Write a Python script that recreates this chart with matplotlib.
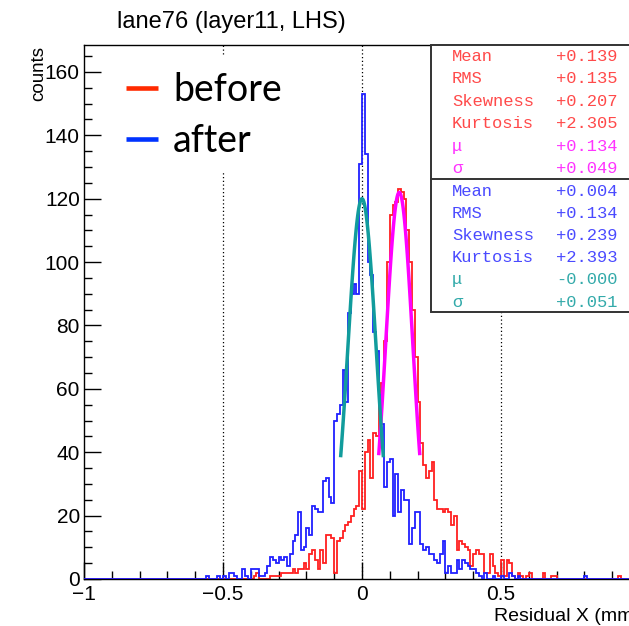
import numpy as np
import matplotlib
matplotlib.use("Agg")
import matplotlib.pyplot as plt
from matplotlib.patches import Rectangle

plt.rcParams["font.family"] = ["Liberation Sans", "DejaVu Sans"]

# histogram: 200 bins of 0.01 from -1 to 1
N_BINS = 200
X_MIN, X_MAX = -1.0, 1.0

# "before" (red) counts, first bin starts at -0.39
red_start = -0.39
red_counts = [
    1, 2, 0, 0, 0, 0, 1, 1, 1, 1,            # -0.39 .. -0.30
    2, 2, 2, 2, 3, 2, 3, 3, 5, 3,            # -0.29 .. -0.20
    8, 9, 6, 3, 9, 5, 14, 14, 13, 2,         # -0.19 .. -0.10
    12, 13, 15, 17, 18, 20, 22, 23, 34, 22,  # -0.09 .. 0.00
    40, 44, 32, 46, 45, 56, 62, 75, 100, 115,  # 0.01 .. 0.10
    118, 119, 123, 122, 120, 110, 100, 85, 70, 56,  # 0.11 .. 0.20
    43, 36, 32, 34, 37, 25, 22, 22, 21, 22,  # 0.21 .. 0.30
    21, 17, 20, 9, 12, 11, 10, 9, 4, 8,      # 0.31 .. 0.40
    9, 8, 8, 2, 2, 8, 4, 2, 1, 6,            # 0.41 .. 0.50
    1, 6, 5, 1, 0, 2, 1, 0, 1, 2,            # 0.51 .. 0.60
    0, 0, 0, 0, 2, 0, 0, 1, 1, 0,            # 0.61 .. 0.70
    0, 0, 0, 0, 0, 0, 0, 0, 0, 0,            # 0.71 .. 0.80
    0, 0, 0, 0, 0, 0, 0, 0, 0, 0,            # 0.81 .. 0.90
    0, 1,                                    # 0.91 .. 0.92
]

# "after" (blue) counts, first bin starts at -0.56
blue_start = -0.56
blue_counts = [
    1, 0, 0, 0, 1, 0, 1, 0, 2, 2,            # -0.56 .. -0.47
    1, 0, 0, 3, 1, 0, 3, 3, 3, 1,            # -0.46 .. -0.37
    1, 2, 4, 7, 6, 5, 7, 6, 7, 4,            # -0.36 .. -0.27
    8, 12, 14, 21, 9, 10, 16, 14, 23, 22,    # -0.26 .. -0.17
    21, 21, 31, 32, 26, 24, 50, 52, 55, 66,  # -0.16 .. -0.07
    56, 84, 90, 93, 90, 131, 153, 134, 100, 96,  # -0.06 .. 0.03
    78, 72, 58, 49, 29, 37, 38, 20, 33, 21,  # 0.04 .. 0.13
    28, 25, 25, 11, 16, 21, 21, 11, 9, 10,   # 0.14 .. 0.23
    8, 8, 6, 5, 8, 12, 2, 4, 2, 2,           # 0.24 .. 0.33
    6, 3, 6, 5, 4, 3, 3, 2, 1, 0,            # 0.34 .. 0.43
    2, 0, 0, 1, 0, 0, 1, 0, 0, 2,            # 0.44 .. 0.53
    1, 0, 1, 0, 0, 0, 0, 0, 0, 0,            # 0.54 .. 0.63
    0, 0, 0, 0, 0, 0, 0, 0, 0, 0,            # 0.64 .. 0.73
    0, 0, 0, 0, 0, 0, 1,                     # 0.74 .. 0.80
]

# gaussian fits (mu, sigma, amplitude)
red_fit = (0.134, 0.049, 122.0)
blue_fit = (0.0, 0.051, 120.0)

stat_labels = ["Mean", "RMS", "Skewness", "Kurtosis", "\u03bc", "\u03c3"]
red_stats = ["+0.139", "+0.135", "+0.207", "+2.305", "+0.134", "+0.049"]
blue_stats = ["+0.004", "+0.134", "+0.239", "+2.393", "-0.000", "+0.051"]


def fill_bins(start, counts):
    vals = np.zeros(N_BINS)
    i0 = int(round((start - X_MIN) / 0.01))
    vals[i0:i0 + len(counts)] = counts
    return vals


edges = np.linspace(X_MIN, X_MAX, N_BINS + 1)
red_vals = fill_bins(red_start, red_counts)
blue_vals = fill_bins(blue_start, blue_counts)

W, H = 629, 626
fig = plt.figure(figsize=(W / 100, H / 100), dpi=100)
ax = fig.add_axes([84 / W, (H - 579) / H, 556 / W, 534 / H])
ax.set_xlim(X_MIN, X_MAX)
ax.set_ylim(0, 168.5)

# dotted grid on x
for gx in [-0.5, 0.0, 0.5]:
    ax.axvline(gx, color="black", lw=0.9, ls=(0, (1, 2)), zorder=0)

ax.stairs(red_vals, edges, color="#ff2020", lw=1.3, zorder=2)
ax.stairs(blue_vals, edges, color="#2020ff", lw=1.3, zorder=3)

for (mu, sig, amp), col in [(red_fit, "#ff00ff"), (blue_fit, "#119c9c")]:
    xs = np.linspace(mu - 1.5 * sig, mu + 1.5 * sig, 120)
    ax.plot(xs, amp * np.exp(-0.5 * ((xs - mu) / sig) ** 2), color=col,
            lw=2.5, zorder=4)

# ticks, ROOT style (label at x=1 falls outside the canvas)
ax.set_xticks([-1, -0.5, 0, 0.5, 1])
ax.set_xticklabels(["\u22121", "\u22120.5", "0", "0.5", ""])
ax.set_xticks(np.arange(-1, 1.001, 0.1), minor=True)
ax.set_yticks(np.arange(0, 161, 20))
ax.set_yticks(np.arange(0, 168, 5), minor=True)
ax.tick_params(which="both", direction="in", top=False, right=False,
               labelsize=15, width=1)
ax.tick_params(which="major", length=12)
ax.tick_params(which="minor", length=6)
ax.tick_params(axis="y", pad=3)
ax.tick_params(axis="x", pad=4)
for s in ax.spines.values():
    s.set_linewidth(1.0)

# white legend patch with lines
ax.add_patch(Rectangle((0.047, 0.76), 0.36, 0.218, transform=ax.transAxes,
                       facecolor="white", edgecolor="none", zorder=1))
ax.plot([0.0755, 0.133], [0.919, 0.919], transform=ax.transAxes,
        color="#ff2a00", lw=3.3, solid_capstyle="butt", zorder=5)
ax.plot([0.0755, 0.133], [0.824, 0.824], transform=ax.transAxes,
        color="#0033ff", lw=3.3, solid_capstyle="butt", zorder=5)
ax.text(0.160, 0.895, "before", transform=ax.transAxes, fontsize=27,
        family=["Lato", "DejaVu Sans"], va="baseline", zorder=5)
ax.text(0.160, 0.800, "after", transform=ax.transAxes, fontsize=27,
        family=["Lato", "DejaVu Sans"], va="baseline", zorder=5)

# stats box
ax.add_patch(Rectangle((0.624, 0.5), 0.6, 0.5, transform=ax.transAxes,
                       facecolor="white", edgecolor="#333333", lw=1.4,
                       zorder=6, clip_on=False))
ax.plot([0.624, 1.2], [0.75, 0.75], transform=ax.transAxes, color="#333333",
        lw=1.4, zorder=7, clip_on=False)
mono = ["Liberation Mono", "DejaVu Sans Mono"]
for k in range(6):
    y_top = (579 - (45 + 22.5 * (k + 0.5))) / 534
    y_bot = (579 - (180 + 22.2 * (k + 0.5))) / 534
    c_top = "#ff4a4a" if k < 4 else "#ff33ff"
    c_bot = "#4a4aff" if k < 4 else "#33aaaa"
    ax.text(0.662, y_top, stat_labels[k], transform=ax.transAxes, color=c_top,
            fontsize=12.3, family=mono, va="center", zorder=8)
    ax.text(0.960, y_top, red_stats[k], transform=ax.transAxes, color=c_top,
            fontsize=12.3, family=mono, va="center", ha="right", zorder=8)
    ax.text(0.662, y_bot, stat_labels[k], transform=ax.transAxes, color=c_bot,
            fontsize=12.3, family=mono, va="center", zorder=8)
    ax.text(0.960, y_bot, blue_stats[k], transform=ax.transAxes, color=c_bot,
            fontsize=12.3, family=mono, va="center", ha="right", zorder=8)

# titles
fig.text(231 / W, (H - 22) / H, "lane76 (layer11, LHS)", fontsize=17,
         ha="center", va="center")
fig.text(39 / W, (H - 46) / H, "counts", fontsize=13.5, rotation=90,
         ha="center", va="top")
ax.text(1.0, -0.071, "Residual X (mm)", transform=ax.transAxes, fontsize=14,
        ha="right", va="center")

fig.savefig("out.png", dpi=100)
